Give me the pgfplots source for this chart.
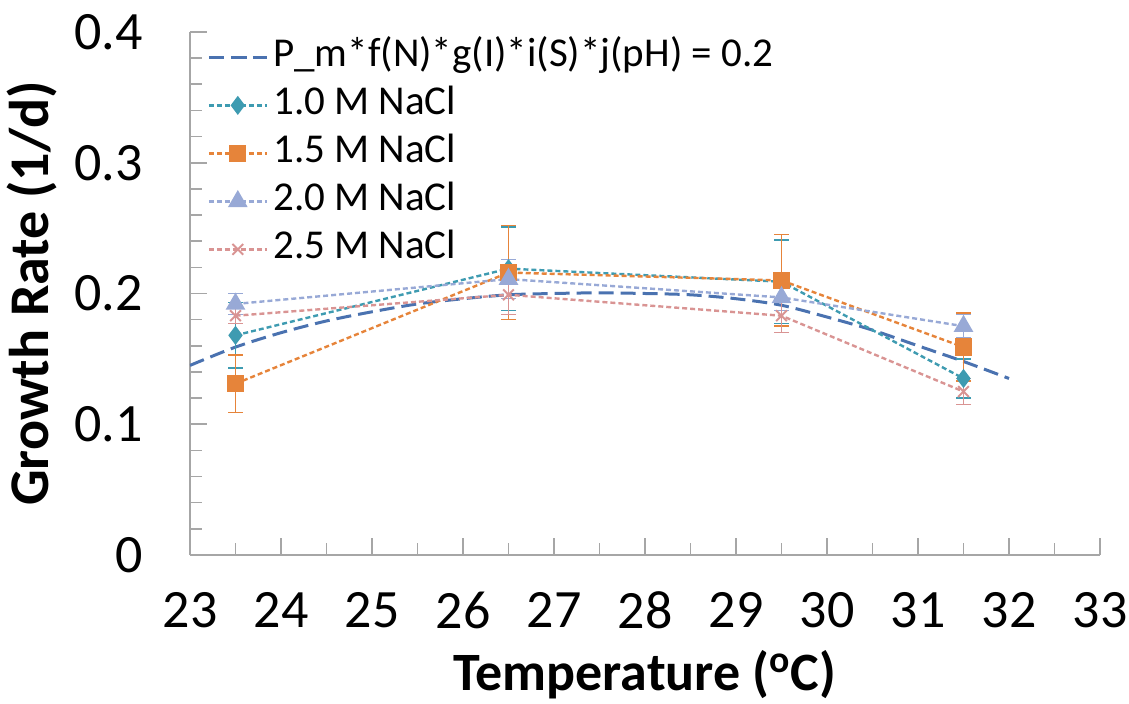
\documentclass[border=0pt]{standalone}
\usepackage{fontspec}
\setmainfont{Carlito}
\usepackage{pgfplots}
\pgfplotsset{compat=1.18}

\definecolor{cModel}{HTML}{4A72B0}
\definecolor{cTeal}{HTML}{3E9BB1}
\definecolor{cOrange}{HTML}{E6843A}
\definecolor{cLav}{HTML}{98A9D6}
\definecolor{cPink}{HTML}{D99493}
\definecolor{axisgray}{HTML}{A6A6A6}

\begin{document}
\begin{tikzpicture}
\begin{axis}[
    width=455pt, height=261.5pt, scale only axis,
    xmin=23, xmax=33, ymin=0, ymax=0.4,
    xtick={23,24,25,26,27,28,29,30,31,32,33},
    ytick={0,0.1,0.2,0.3,0.4},
    minor x tick num=1, minor y tick num=4,
    axis x line*=bottom, axis y line*=left,
    axis line style={draw=axisgray, line width=1pt},
    tick align=inside, major tick length=8.5pt, minor tick length=6pt,
    every tick/.style={axisgray, line width=0.8pt},
    tick label style={font=\fontsize{27}{27}\selectfont},
    /pgf/number format/assume math mode=true,
    xticklabel shift=15pt, yticklabel shift=20pt,
    xlabel={\textbf{Temperature (\textsuperscript{o}C)}},
    ylabel={\textbf{Growth Rate (1/d)}},
    xlabel style={font=\fontsize{27}{27}\selectfont,
        at={(axis description cs:0.5,-0.259)}, anchor=base},
    ylabel style={font=\fontsize{28}{28}\selectfont,
        at={(axis description cs:-0.155,0.5)}, anchor=base},
    legend style={draw=none, fill=none, at={(axis description cs:0.012,1.0)},
        anchor=north west, font=\fontsize{20.5}{20.5}\selectfont,
        row sep=3pt, column sep=1.5pt,
        nodes={text height=14pt, text depth=5pt, inner sep=1pt}},
    legend cell align=left,
    legend image code/.code={\draw[mark repeat=2,mark phase=2] plot coordinates {(0pt,0pt)(14.5pt,0pt)(29pt,0pt)};},
    error bars/y dir=both, error bars/y explicit,
    error bars/error bar style={solid, line width=0.75pt},
    error bars/error mark options={rotate=90, mark size=3.75pt, line width=0.75pt, solid},
]
\addplot[cModel, line width=1.5pt, dash pattern=on 7.5pt off 3.5pt, no marks, smooth] coordinates {
(23,0.145) (23.5,0.159) (24,0.170) (24.5,0.179) (25,0.186) (25.5,0.192)
(26,0.196) (26.5,0.199) (27,0.200) (27.5,0.2005) (28,0.200) (28.5,0.199)
(29,0.196) (29.5,0.191) (30,0.182) (30.5,0.172) (31,0.160) (31.5,0.148) (32,0.135)
};
\addlegendentry{P\_m*f(N)*g(I)*i(S)*j(pH) = 0.2}

\addplot[cTeal, line width=1.2pt, dash pattern=on 2.5pt off 1.5pt,
    mark=diamond*, mark size=3.8pt, mark options={solid, fill=cTeal}]
  coordinates {
(23.5,0.168) +- (0,0.025)
(26.5,0.219) +- (0,0.032)
(29.5,0.209) +- (0,0.032)
(31.5,0.135) +- (0,0.015)
};
\addlegendentry{1.0 M NaCl}

\addplot[cOrange, line width=1.2pt, dash pattern=on 2.5pt off 1.5pt,
    mark=square*, mark size=3.7pt, mark options={solid, fill=cOrange}]
  coordinates {
(23.5,0.131) +- (0,0.022)
(26.5,0.216) +- (0,0.036)
(29.5,0.210) +- (0,0.035)
(31.5,0.159) +- (0,0.026)
};
\addlegendentry{1.5 M NaCl}

\addplot[cLav, line width=1.2pt, dash pattern=on 2.5pt off 1.5pt,
    mark=triangle*, mark size=4.5pt, mark options={solid, fill=cLav}]
  coordinates {
(23.5,0.192) +- (0,0.008)
(26.5,0.211) +- (0,0.015)
(29.5,0.197) +- (0,0.010)
(31.5,0.175) +- (0,0.009)
};
\addlegendentry{2.0 M NaCl}

\addplot[cPink, line width=1.2pt, dash pattern=on 2.5pt off 1.5pt,
    mark=x, mark size=3.8pt, mark options={solid, line width=1pt}]
  coordinates {
(23.5,0.183) +- (0,0.006)
(26.5,0.199) +- (0,0.015)
(29.5,0.183) +- (0,0.013)
(31.5,0.125) +- (0,0.010)
};
\addlegendentry{2.5 M NaCl}
\end{axis}
\pgfresetboundingbox
\path[use as bounding box] ([xshift=-95pt,yshift=-74.5pt]current axis.south west)
  rectangle ([xshift=14.5pt,yshift=16pt]current axis.north east);
\end{tikzpicture}
\end{document}
